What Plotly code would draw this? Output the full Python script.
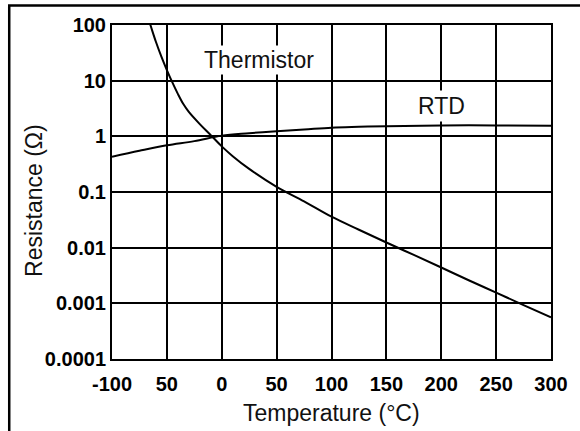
import plotly.graph_objects as go

# ---- data ----
thermistor_temp = [-70, -65, -60, -55, -50, -45, -40, -35, -30, -20, -10, 0, 10, 25, 50, 75,
                   100, 125, 150, 175, 200, 225, 250, 275, 300]
thermistor_res = [200, 100, 50, 27, 15.5, 9.3, 5.8, 3.8, 2.75, 1.66, 1.05, 0.66, 0.44, 0.26,
                  0.124, 0.068, 0.036, 0.021, 0.0124, 0.0074, 0.0044, 0.0026, 0.00156,
                  0.00093, 0.00056]

rtd_temp = [-100, -75, -50, -25, 0, 25, 50, 75, 100, 125, 150, 200, 250, 300]
rtd_res = [0.43, 0.55, 0.69, 0.82, 1.03, 1.14, 1.24, 1.33, 1.43, 1.48, 1.52, 1.57, 1.57, 1.55]

x_tickvals = [-100, -50, 0, 50, 100, 150, 200, 250, 300]
x_ticktext = ["-100", "50", "0", "50", "100", "150", "200", "250", "300"]
y_tickvals = [0.0001, 0.001, 0.01, 0.1, 1, 10, 100]
y_ticktext = ["0.0001", "0.001", "0.01", "0.1", "1", "10", "100"]

FONT = "Arial, Liberation Sans, Helvetica, sans-serif"

fig = go.Figure()
fig.add_trace(go.Scatter(x=thermistor_temp, y=thermistor_res, mode="lines",
                         line=dict(color="black", width=2, shape="spline", smoothing=1.0),
                         name="Thermistor", showlegend=False, hoverinfo="skip"))
fig.add_trace(go.Scatter(x=rtd_temp, y=rtd_res, mode="lines",
                         line=dict(color="black", width=2, shape="spline", smoothing=1.0),
                         name="RTD", showlegend=False, hoverinfo="skip"))

fig.update_layout(
    width=580, height=431,
    margin=dict(l=112, r=27, t=25, b=72),
    paper_bgcolor="white", plot_bgcolor="white",
    font=dict(family=FONT, color="black"),
    xaxis=dict(range=[-100, 300], tickvals=x_tickvals, ticktext=x_ticktext,
               showgrid=True, gridcolor="black", gridwidth=2, zeroline=False,
               showline=True, mirror=True, linecolor="black", linewidth=2,
               ticks="", ticklabelstandoff=6,
               tickfont=dict(family=FONT, size=20, color="black", weight="bold")),
    yaxis=dict(type="log", range=[-4, 2], tickvals=y_tickvals, ticktext=y_ticktext,
               showgrid=True, gridcolor="black", gridwidth=2, zeroline=False,
               showline=True, mirror=True, linecolor="black", linewidth=2,
               ticks="", ticklabelstandoff=0,
               tickfont=dict(family=FONT, size=20, color="black", weight="bold")),
    annotations=[
        dict(text="Thermistor", x=34, y=1.365, xref="x", yref="y", showarrow=False,
             font=dict(family=FONT, size=23, color="#111"), bgcolor="white", borderpad=1),
        dict(text="RTD", x=200, y=0.54, xref="x", yref="y", showarrow=False,
             font=dict(family=FONT, size=23, color="#111"), bgcolor="white", borderpad=2),
        dict(text="Temperature (°C)", x=0.5, y=-0.162, xref="paper", yref="paper",
             xanchor="center", yanchor="middle", showarrow=False,
             font=dict(family=FONT, size=23, color="#111")),
        dict(text="Resistance (Ω)", x=-0.1793, y=0.474, xref="paper", yref="paper",
             xanchor="center", yanchor="middle", textangle=-90, showarrow=False,
             font=dict(family=FONT, size=23, color="#111")),
    ],
    shapes=[
        # outer frame of the figure (top and left edges; right/bottom fall outside the view)
        dict(type="path", xref="paper", yref="paper", layer="above",
             path="M 1.2,1.0585 L -0.2341,1.0585 L -0.2341,-0.3",
             line=dict(color="black", width=2.5), fillcolor="rgba(0,0,0,0)"),
    ],
)

fig.write_html("out.html", config={"staticPlot": True, "displayModeBar": False},
               post_script="document.body.style.margin='0';document.body.style.overflow='hidden';")
